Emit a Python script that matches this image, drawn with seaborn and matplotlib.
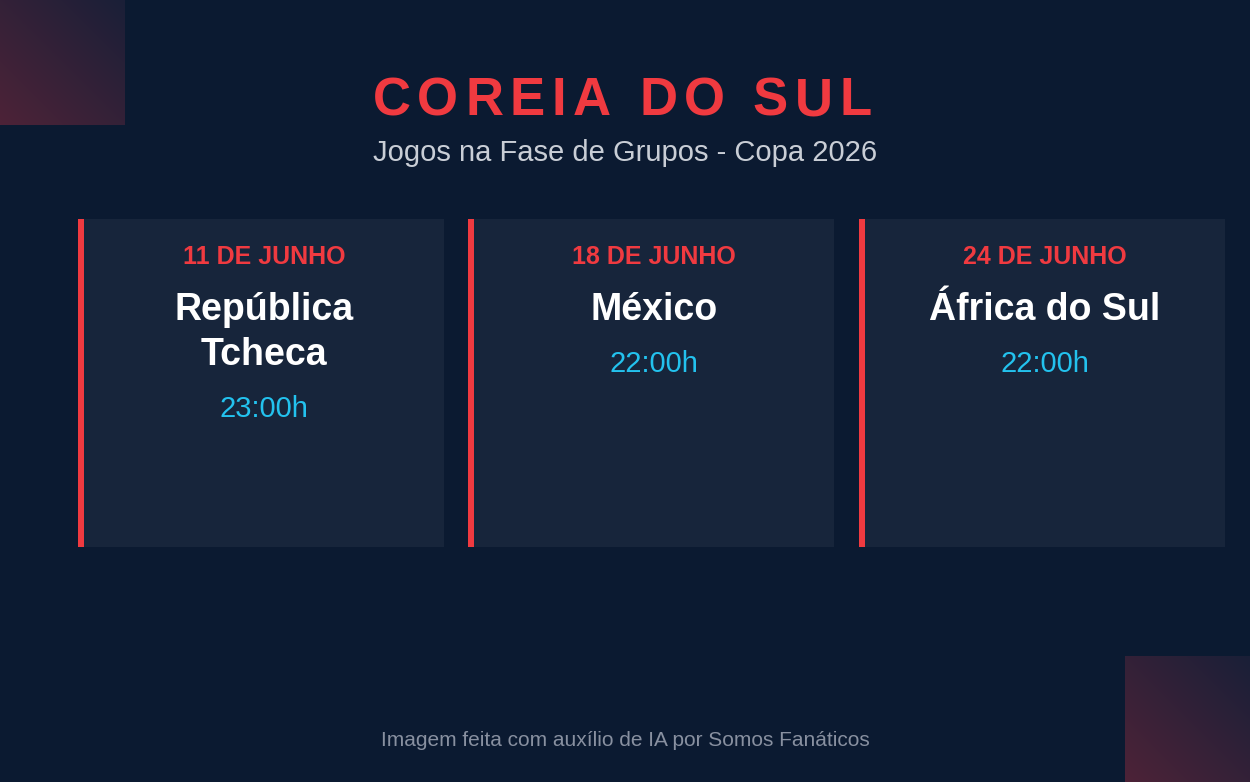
import numpy as np
import matplotlib
matplotlib.use("Agg")
import matplotlib.pyplot as plt
import seaborn as sns
from matplotlib.patches import Rectangle

sns.set_theme(style="white")
plt.rcParams['font.family'] = ['Liberation Sans', 'DejaVu Sans']

title = "COREIA DO SUL"
subtitle = "Jogos na Fase de Grupos - Copa 2026"
dates = ["11 DE JUNHO", "18 DE JUNHO", "24 DE JUNHO"]
teams = ["República\nTcheca", "México", "África do Sul"]
times = ["23:00h", "22:00h", "22:00h"]
footer = "Imagem feita com auxílio de IA por Somos Fanáticos"

BG = "#0b1a31"
CARD = "#17253b"
RED = "#f03a40"
CYAN = "#23c2ee"

fig = plt.figure(figsize=(12.5, 7.82), dpi=100, facecolor=BG)
ax = fig.add_axes([0, 0, 1, 1])
ax.axis("off")
ax.set_facecolor(BG)

n = 64
u = np.linspace(0, 1, n)
X, Y = np.meshgrid(u, u)
t = np.clip(((1 - X) + Y) / 2, 0, 1)
c0 = np.array([0x1a, 0x1f, 0x38]) / 255
c1 = np.array([0x4d, 0x23, 0x37]) / 255
img = c0[None, None, :] * (1 - t[..., None]) + c1[None, None, :] * t[..., None]
ax.imshow(img, extent=(0, 125, 125, 0), zorder=1, interpolation="bilinear")
ax.imshow(img, extent=(1125, 1250, 782, 656), zorder=1, interpolation="bilinear")
ax.set_xlim(0, 1250)
ax.set_ylim(782, 0)
ax.set_aspect("auto")

renderer = fig.canvas.get_renderer()
fs_title = 38
spacing = 6.7
widths = []
for ch in title:
    tt = ax.text(0, 0, ch if ch != " " else "I", fontsize=fs_title, fontweight="bold")
    wpx = tt.get_window_extent(renderer).width
    if ch == " ":
        sp = ax.text(0, 0, "I I", fontsize=fs_title, fontweight="bold")
        wpx = sp.get_window_extent(renderer).width - 2 * wpx
        sp.remove()
    tt.remove()
    widths.append(wpx)
total = sum(widths) + spacing * (len(title) - 1)
x = 622 - total / 2
for ch, wpx in zip(title, widths):
    ax.text(x, 115, ch, ha="left", va="baseline", color=RED, fontsize=fs_title,
            fontweight="bold", zorder=3)
    x += wpx + spacing

ax.text(625, 153, subtitle, ha="center", va="center", color="#c9ced6",
        fontsize=21, zorder=3)

lefts = [78, 468, 859]
w, top, h = 366, 219, 328
for i, x0 in enumerate(lefts):
    ax.add_patch(Rectangle((x0, top), w, h, color=CARD, zorder=2, lw=0))
    ax.add_patch(Rectangle((x0, top), 6, h, color=RED, zorder=3, lw=0))
    cx = x0 + 3 + w / 2
    ax.text(cx, 257, dates[i], ha="center", va="center", color=RED,
            fontsize=18, fontweight="bold", zorder=4)
    nl = teams[i].count("\n") + 1
    ax.text(cx, 310 + (nl - 1) * 22.5, teams[i], ha="center", va="center",
            color="white", fontsize=27, fontweight="bold", linespacing=1.3, zorder=4)
    ax.text(cx, 364 + (nl - 1) * 45, times[i], ha="center", va="center",
            color=CYAN, fontsize=21, zorder=4)

ax.text(625, 740, footer, ha="center", va="center", color="#8890a0",
        fontsize=15, zorder=3)

fig.savefig("out.png", dpi=100, facecolor=BG)
